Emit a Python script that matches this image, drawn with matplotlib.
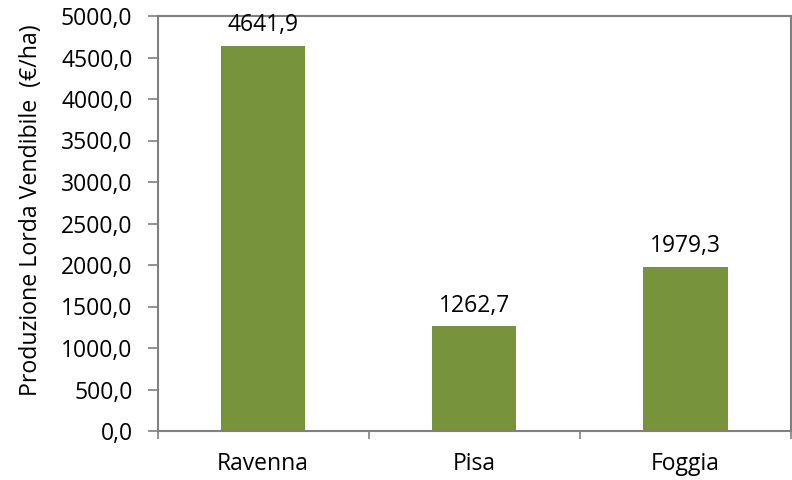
import matplotlib
matplotlib.use("Agg")
import matplotlib.pyplot as plt
import numpy as np

categories = ["Ravenna", "Pisa", "Foggia"]
values = [4641.9, 1262.7, 1979.3]
yticks = [0, 500, 1000, 1500, 2000, 2500, 3000, 3500, 4000, 4500, 5000]

plt.rcParams['font.family'] = ['Open Sans', 'DejaVu Sans']
FS = 16.5

fig = plt.figure(figsize=(7.92, 4.8), dpi=100)
ax = fig.add_axes([157.5/792, 1 - 431/480, (791 - 157.5)/792, (431 - 16)/480])

x = np.arange(len(categories))
ax.bar(x, values, width=0.4, color="#77933C", zorder=2)
for xi, v in zip(x, values):
    ax.annotate(f"{v:.1f}".replace(".", ","), (xi, v), xytext=(0, 6),
                textcoords="offset points", ha="center", va="bottom", fontsize=FS)

ax.set_xlim(-0.5, len(categories) - 0.5)
ax.set_ylim(0, 5000)
ax.set_yticks(yticks)
ax.set_yticklabels([f"{t:.1f}".replace(".", ",") for t in yticks], fontsize=FS)
ax.set_xticks(x)
ax.set_xticklabels(categories, fontsize=FS)
ax.tick_params(axis="x", length=0, pad=15)
ax.set_xticks(np.arange(-0.5, len(categories)), minor=True)
ax.tick_params(axis="x", which="minor", length=6, direction="out", color="#808080", width=1.2)
ax.tick_params(axis="y", length=7, direction="out", color="#808080", width=1.2, pad=11)

for s in ax.spines.values():
    s.set_color("#808080")
    s.set_linewidth(1.5)

ax.set_ylabel("Produzione Lorda Vendibile  (€/ha)", fontsize=16.7)
ax.yaxis.set_label_coords(-0.18, 0.533)

fig.savefig("out.png", dpi=100)
